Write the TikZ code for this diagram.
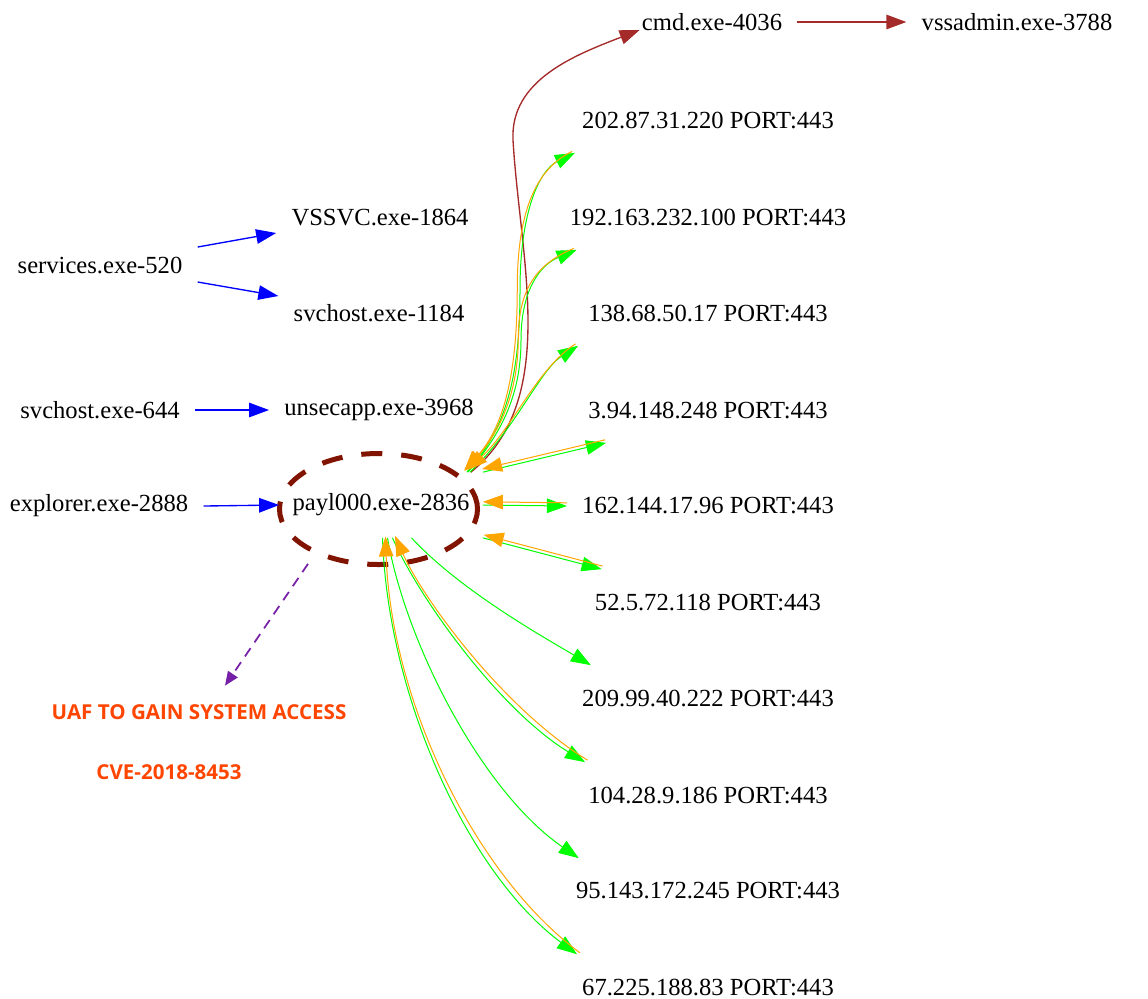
\documentclass[tikz,border=0pt]{standalone}
\usepackage{fontspec}
\setmainfont{Liberation Serif}
\newfontfamily\notefont{Open Sans}
\usepackage{tikz}
\usetikzlibrary{arrows.meta,positioning}

\definecolor{gvorange}{RGB}{255,165,0}
\definecolor{gvgreen}{RGB}{0,255,0}
\definecolor{gvbrown}{RGB}{165,42,42}
\definecolor{ringred}{RGB}{128,20,0}
\definecolor{gvpurple}{RGB}{118,32,168}
\definecolor{notered}{RGB}{255,69,0}

\begin{document}
\begin{tikzpicture}[
  x=0.2mm, y=-0.2mm,
  proc/.style={inner xsep=3mm, inner ysep=0pt, minimum height=13mm,
               font=\fontsize{14}{17}\selectfont},
  ip/.style={proc},
  note/.style={text=notered, inner sep=0pt, font=\notefont\bfseries\fontsize{11.7}{13}\selectfont},
  gvhead/.style={-{Triangle[length=4mm,width=2.9mm]}},
  spawn/.style={blue, line width=0.27mm, gvhead},
  cmdline/.style={gvbrown, line width=0.27mm, gvhead},
  conn/.style={gvgreen, line width=0.2mm, gvhead},
  retline/.style={gvorange, line width=0.2mm, {Triangle[length=4mm,width=2.9mm]}-,
                  transform canvas={shift={#1}}},
  ring/.style={ringred, line width=1mm, dash pattern=on 4.2mm off 3.8mm},
  exploit/.style={gvpurple, line width=0.35mm, dash pattern=on 2mm off 1.4mm,
                  -{Triangle[length=2.8mm,width=2.3mm]}}]
  \useasboundingbox (0,0) rectangle (1148,998);

  % processes
  \node[proc] (svc) at (100,265) {services.exe-520};
  \node[proc] (vss) at (380,217) {VSSVC.exe-1864};
  \node[proc] (sh1) at (379,313) {svchost.exe-1184};
  \node[proc] (sh6) at (100,410) {svchost.exe-644};
  \node[proc] (uns) at (379,410) {unsecapp.exe-3968};
  \node[proc] (exp) at (99,506) {explorer.exe-2888};
  \node[proc, inner xsep=0pt, minimum width=40.6mm] (pay) at (381,505) {payl000.exe-2836};
  \node[proc] (cmd) at (712,22) {cmd.exe-4036};
  \node[proc] (vsa) at (1017,22) {vssadmin.exe-3788};

  % remote hosts
  \node[ip] (ip1) at (708,120) {202.87.31.220 PORT:443};
  \node[ip] (ip2) at (708,217) {192.163.232.100 PORT:443};
  \node[ip] (ip3) at (708,313) {138.68.50.17 PORT:443};
  \node[ip] (ip4) at (708,410) {3.94.148.248 PORT:443};
  \node[ip] (ip5) at (708,506) {162.144.17.96 PORT:443};
  \node[ip] (ip6) at (708,602) {52.5.72.118 PORT:443};
  \node[ip] (ip7) at (708,698) {209.99.40.222 PORT:443};
  \node[ip] (ip8) at (708,795) {104.28.9.186 PORT:443};
  \node[ip] (ip9) at (708,891) {95.143.172.245 PORT:443};
  \node[ip] (ip10) at (708,987) {67.225.188.83 PORT:443};

  \node[note, minimum height=10.4mm] (uaf) at (199,712) {UAF TO GAIN SYSTEM ACCESS};
  \node[note] (cve) at (169,772) {CVE-2018-8453};

  \draw[ring] ([xshift=-0.5mm,yshift=-0.8mm]pay.center) ellipse [x radius=19.8mm, y radius=11.1mm];

  \draw[spawn] ([yshift=3.6mm]svc.east) -- ([yshift=-3.2mm]vss.west);
  \draw[spawn] ([yshift=-3.4mm]svc.east) -- ([yshift=3.4mm]sh1.west);
  \draw[spawn] (sh6.east) -- (uns.west);
  \draw[spawn] (exp.east) -- (pay.west);

  \draw[cmdline] ([xshift=-2.4mm]pay.north east) .. controls (560,400) and (520,260) .. (513,140)
    .. controls (510,80) and (575,55) .. ([xshift=2.6mm,yshift=-1.6mm]cmd.west);
  \draw[cmdline] (cmd.east) -- (vsa.west);

  % connections out of the payload
  \draw[conn] ([xshift=-3.2mm]pay.north east) .. controls (505,430) and (520,380) .. (520,290)
    .. controls (520,210) and (540,170) .. ([xshift=1.6mm]ip1.south west);
  \draw[retline={(-0.55mm,0.3mm)}] ([xshift=-3.2mm]pay.north east) .. controls (505,430) and (520,380) .. (520,290)
    .. controls (520,210) and (540,170) .. ([xshift=1.6mm]ip1.south west);
  \draw[conn] ([xshift=-3mm]pay.north east) .. controls (505,430) and (521,390) .. (521,340)
    .. controls (521,290) and (540,265) .. ([xshift=4.4mm]ip2.south west);
  \draw[retline={(-0.55mm,0.3mm)}] ([xshift=-3mm]pay.north east) .. controls (505,430) and (521,390) .. (521,340)
    .. controls (521,290) and (540,265) .. ([xshift=4.4mm]ip2.south west);
  \draw[conn] ([xshift=-2.6mm]pay.north east) .. controls (515,430) and (540,370) .. ([xshift=1mm]ip3.south west);
  \draw[retline={(-0.5mm,0.4mm)}] ([xshift=-2.6mm]pay.north east) .. controls (515,430) and (540,370) .. ([xshift=1mm]ip3.south west);
  \draw[conn] (pay.north east) -- ([xshift=6.6mm]ip4.south west);
  \draw[retline={(-0.16mm,0.62mm)}] (pay.north east) -- ([xshift=6.6mm]ip4.south west);
  \draw[conn] (pay.east) -- (ip5.west);
  \draw[retline={(0mm,0.64mm)}] (pay.east) -- (ip5.west);
  \draw[conn] (pay.south east) -- ([xshift=4.4mm]ip6.north west);
  \draw[retline={(0.16mm,0.62mm)}] (pay.south east) -- ([xshift=4.4mm]ip6.north west);
  \draw[conn] ([xshift=6.1mm]pay.south) .. controls (460,590) and (540,635) .. ([xshift=4.8mm]ip7.north west);
  \draw[conn] ([xshift=2.3mm]pay.south) .. controls (420,600) and (500,710) .. ([xshift=2.4mm]ip8.north west);
  \draw[retline={(0.5mm,0.4mm)}] ([xshift=2.3mm]pay.south) .. controls (420,600) and (500,710) .. ([xshift=2.4mm]ip8.north west);
  \draw[conn] ([xshift=1.3mm]pay.south) .. controls (405,640) and (480,790) .. ([xshift=3.6mm]ip9.north west);
  \draw[conn] ([xshift=0.3mm]pay.south) .. controls (388,700) and (470,875) .. ([xshift=2mm]ip10.north west);
  \draw[retline={(0.6mm,0.28mm)}] ([xshift=0.3mm]pay.south) .. controls (388,700) and (470,875) .. ([xshift=2mm]ip10.north west);

  \draw[exploit] ([xshift=-14.6mm,yshift=-5.2mm]pay.south) -- ([xshift=5.2mm]uaf.north);
\end{tikzpicture}
\end{document}
